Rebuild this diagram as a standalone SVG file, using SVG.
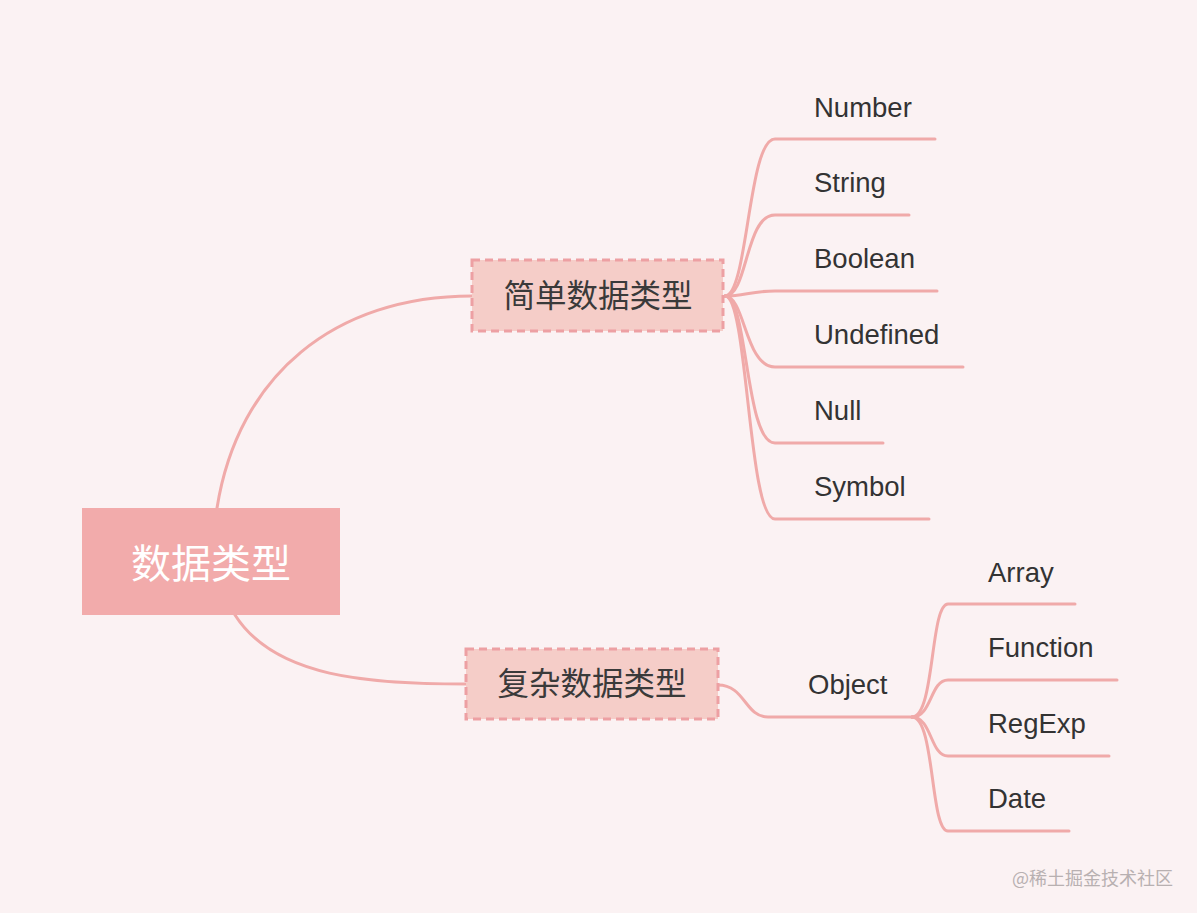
<svg xmlns="http://www.w3.org/2000/svg" width="1197" height="913" viewBox="0 0 1197 913">
<style>
.bg{fill:#fbf2f3}
.ln{fill:none;stroke:#f0aaa9;stroke-width:3;stroke-linecap:round}
.sub{fill:#f5cdc8;stroke:#eda0a3;stroke-width:3;stroke-dasharray:8 5}
.t{font-family:"Liberation Sans",Arial,sans-serif;font-size:27.5px;fill:#333333}
.cn{font-family:"Noto Sans CJK SC","Microsoft YaHei",sans-serif;font-size:31.5px;fill:#3a3a3a;text-anchor:middle}
</style>
<rect class="bg" x="0" y="0" width="1197" height="913"/>
<g id="connectors">
<path class="ln" d="M217,508 C238,375 335,296 472,296"/>
<path class="ln" d="M235,615 C275,678 370,684 466,684"/>
<path class="ln" d="M725,296 C748,296 748,139 775,139 L935,139"/>
<path class="ln" d="M725,296 C748,296 745,215 775,215 L909,215"/>
<path class="ln" d="M725,296 C745,296 750,291 775,291 L937,291"/>
<path class="ln" d="M725,296 C745,296 745,367 775,367 L963,367"/>
<path class="ln" d="M725,296 C748,296 745,443 775,443 L883,443"/>
<path class="ln" d="M725,296 C748,296 748,519 775,519 L929,519"/>
<path class="ln" d="M718,685 C745,685 745,717 768,717 L912,717"/>
<path class="ln" d="M912,717 C935,717 930,604 948,604 L1075,604"/>
<path class="ln" d="M912,717 C932,717 930,680 948,680 L1117,680"/>
<path class="ln" d="M912,717 C932,717 930,756 948,756 L1109,756"/>
<path class="ln" d="M912,717 C935,717 930,831 948,831 L1069,831"/>
</g>
<g id="root">
<rect x="82" y="508" width="258" height="107" fill="#f2abab"/>
<text x="211" y="578" font-family="'Noto Sans CJK SC','Microsoft YaHei',sans-serif" font-size="40" fill="#ffffff" text-anchor="middle">数据类型</text>
</g>
<g id="simple">
<rect class="sub" x="472" y="260" width="251" height="71"/>
<text class="cn" x="598" y="307">简单数据类型</text>
</g>
<g id="complex">
<rect class="sub" x="466" y="649" width="252" height="70"/>
<text class="cn" x="592" y="695">复杂数据类型</text>
</g>
<g id="number"><text class="t" x="814" y="117">Number</text></g>
<g id="string"><text class="t" x="814" y="192">String</text></g>
<g id="boolean"><text class="t" x="814" y="268">Boolean</text></g>
<g id="undefined"><text class="t" x="814" y="344">Undefined</text></g>
<g id="null"><text class="t" x="814" y="420">Null</text></g>
<g id="symbol"><text class="t" x="814" y="496">Symbol</text></g>
<g id="object"><text class="t" x="808" y="694">Object</text></g>
<g id="array"><text class="t" x="988" y="582">Array</text></g>
<g id="function"><text class="t" x="988" y="657">Function</text></g>
<g id="regexp"><text class="t" x="988" y="733">RegExp</text></g>
<g id="date"><text class="t" x="988" y="808">Date</text></g>
<text x="1012" y="885" font-family="'Noto Sans CJK SC',sans-serif" font-size="18" fill="#b8b0b1">@稀土掘金技术社区</text>
</svg>
